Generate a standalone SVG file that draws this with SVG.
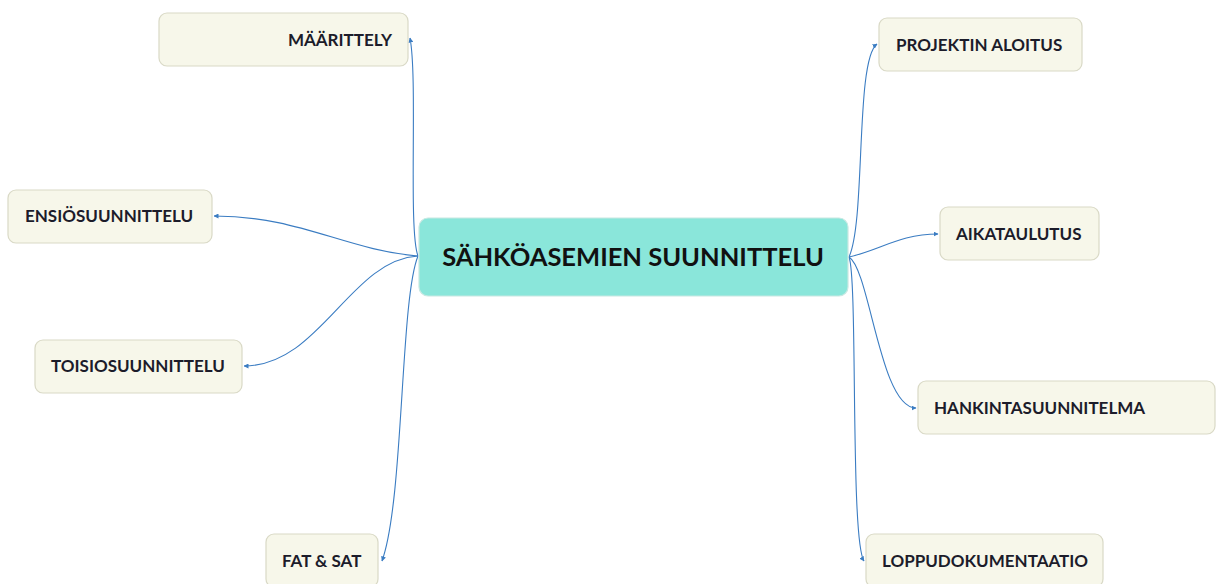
<svg xmlns="http://www.w3.org/2000/svg" width="1216" height="584" viewBox="0 0 1216 584">
  <style>
    .topic rect { fill: #f7f7ea; stroke: #d9d9c6; stroke-width: 1.2; }
    .topic text { font-family: Lato, "Open Sans", "Liberation Sans", sans-serif; font-weight: 700; font-size: 17px; fill: #1c1c2a; }
    .root rect { fill: #8ae6da; stroke: #c8e8e2; stroke-width: 1.2; }
    .root text { font-family: Lato, "Open Sans", "Liberation Sans", sans-serif; font-weight: 700; font-size: 25.5px; fill: #111; text-anchor: middle; }
    .links path { fill: none; stroke: #3a7cc2; stroke-width: 1.1; marker-end: url(#arrow); }
  </style>
  <defs>
    <marker id="arrow" viewBox="0 0 10 10" refX="9" refY="5" markerWidth="5" markerHeight="5" markerUnits="userSpaceOnUse" orient="auto">
      <path d="M0,0 L10,5 L0,10 z" fill="#3a7cc2"/>
    </marker>
  </defs>
  <rect width="1216" height="584" fill="#ffffff"/>

  <!-- connectors from the central topic -->
  <g class="links">
    <path d="M418,256 C408,230 418,80 410,38"/>
    <path d="M418,256 C345,250 300,216 214,216"/>
    <path d="M418,256 C350,260 320,366 244,366"/>
    <path d="M418,256 C400,300 404,500 382,561"/>
    <path d="M849,257 C866,220 855,60 877,44"/>
    <path d="M849,257 C880,250 900,234 938,234"/>
    <path d="M849,257 C870,270 880,408 916,408"/>
    <path d="M849,257 C858,280 850,540 864,561"/>
  </g>

  <g id="root" class="root">
    <rect x="419" y="218" width="429" height="78" rx="9"/>
    <text x="633" y="266">SÄHKÖASEMIEN SUUNNITTELU</text>
  </g>

  <g id="maarittely" class="topic">
    <rect x="159" y="13" width="249" height="53" rx="8"/>
    <text x="392" y="46" text-anchor="end">MÄÄRITTELY</text>
  </g>

  <g id="ensiosuunnittelu" class="topic">
    <rect x="8" y="190" width="204" height="53" rx="8"/>
    <text x="25" y="222">ENSIÖSUUNNITTELU</text>
  </g>

  <g id="toisiosuunnittelu" class="topic">
    <rect x="35" y="340" width="207" height="53" rx="8"/>
    <text x="51" y="372">TOISIOSUUNNITTELU</text>
  </g>

  <g id="fat-sat" class="topic">
    <rect x="266" y="534" width="112" height="53" rx="8"/>
    <text x="282" y="567">FAT &amp; SAT</text>
  </g>

  <g id="projektin-aloitus" class="topic">
    <rect x="879" y="18" width="203" height="53" rx="8"/>
    <text x="896" y="51">PROJEKTIN ALOITUS</text>
  </g>

  <g id="aikataulutus" class="topic">
    <rect x="940" y="207" width="159" height="53" rx="8"/>
    <text x="956" y="240">AIKATAULUTUS</text>
  </g>

  <g id="hankintasuunnitelma" class="topic">
    <rect x="918" y="381" width="297" height="53" rx="8"/>
    <text x="934" y="414">HANKINTASUUNNITELMA</text>
  </g>

  <g id="loppudokumentaatio" class="topic">
    <rect x="866" y="534" width="237" height="53" rx="8"/>
    <text x="882" y="567">LOPPUDOKUMENTAATIO</text>
  </g>
</svg>
